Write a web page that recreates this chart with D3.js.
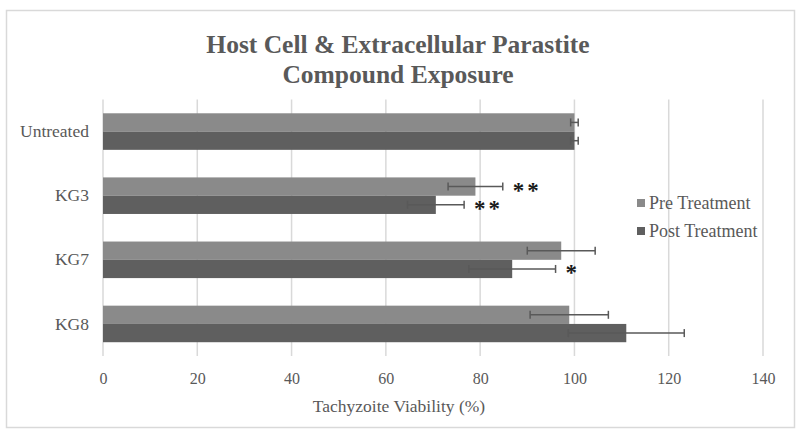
<!DOCTYPE html>
<html>
<head>
<meta charset="utf-8">
<script src="https://cdn.jsdelivr.net/npm/d3@7"></script>
<style>
  body { margin: 0; background: #fff; }
  text { font-family: "Liberation Serif", serif; fill: #595959; }
</style>
</head>
<body>
<script>
// chart data
var groups = ["Untreated", "KG3", "KG7", "KG8"];
var series = ["Pre Treatment", "Post Treatment"];
var preValues = [100, 79, 97.2, 98.9];
var postValues = [100, 70.6, 86.8, 111];
var preErrors = [0.8, 5.8, 7.2, 8.3];
var postErrors = [0.8, 6, 9.2, 12.3];
var preStars = ["", "**", "", ""];
var postStars = ["", "**", "*", ""];
var xTicks = [0, 20, 40, 60, 80, 100, 120, 140];

var w = 800, h = 439;
var colors = ["#8a8a8a", "#5f5f5f"];

var svg = d3.select("body").append("svg")
  .attr("width", w)
  .attr("height", h);

// outer chart border
svg.append("rect")
  .attr("x", 6.5).attr("y", 10.5)
  .attr("width", 788).attr("height", 417)
  .attr("fill", "#fff")
  .attr("stroke", "#d9d9d9")
  .attr("stroke-width", 1.5);

var x = d3.scaleLinear().domain([0, 140]).range([103, 763]);
var y = d3.scaleBand().domain(groups).range([99.5, 356]).paddingInner(0.43).paddingOuter(0.215);
var ySub = d3.scaleBand().domain(series).range([0, y.bandwidth()]);

// gridlines
svg.append("g").selectAll("line")
  .data(xTicks)
  .enter().append("line")
  .attr("x1", function(d){ return x(d); })
  .attr("x2", function(d){ return x(d); })
  .attr("y1", 99.5).attr("y2", 356)
  .attr("stroke", "#d9d9d9")
  .attr("stroke-width", 1.5);

// x axis labels
var xAxis = d3.axisBottom(x).tickValues(xTicks).tickSize(0).tickPadding(0);
var ax = svg.append("g")
  .attr("transform", "translate(0,373)")
  .call(xAxis);
ax.select(".domain").remove();
ax.selectAll("text")
  .style("font-size", "16px");

// y axis labels
var yAxis = d3.axisLeft(y).tickSize(0).tickPadding(14);
var ay = svg.append("g")
  .attr("transform", "translate(103,0)")
  .call(yAxis);
ay.select(".domain").remove();
ay.selectAll("text")
  .style("font-size", "17.5px");

// build rows
var rows = [];
groups.forEach(function(g, i){
  rows.push({group: g, s: series[0], v: preValues[i], e: preErrors[i], star: preStars[i], c: colors[0]});
  rows.push({group: g, s: series[1], v: postValues[i], e: postErrors[i], star: postStars[i], c: colors[1]});
});

function yMid(d){ return y(d.group) + ySub(d.s) + ySub.bandwidth() / 2; }

svg.append("g").selectAll("rect")
  .data(rows)
  .enter().append("rect")
  .attr("x", x(0))
  .attr("y", function(d){ return y(d.group) + ySub(d.s); })
  .attr("width", function(d){ return x(d.v) - x(0); })
  .attr("height", ySub.bandwidth())
  .attr("fill", function(d){ return d.c; });

// error bars
var eb = svg.append("g").attr("stroke", "#595959").attr("stroke-width", 1.5);
rows.forEach(function(d){
  var cy = yMid(d);
  eb.append("line")
    .attr("x1", x(d.v - d.e)).attr("x2", x(d.v + d.e))
    .attr("y1", cy).attr("y2", cy);
  [d.v - d.e, d.v + d.e].forEach(function(v){
    eb.append("line")
      .attr("x1", x(v)).attr("x2", x(v))
      .attr("y1", cy - 4).attr("y2", cy + 4);
  });
});

// significance marks
svg.append("g").selectAll("text")
  .data(rows.filter(function(d){ return d.star; }))
  .enter().append("text")
  .attr("x", function(d){ return x(d.v + d.e) + 10; })
  .attr("y", function(d){ return yMid(d) + 11; })
  .attr("letter-spacing", 3)
  .style("font-size", "23px")
  .style("font-weight", "bold")
  .style("fill", "#1a1a1a")
  .text(function(d){ return d.star; });

// title
var title = svg.append("text")
  .attr("text-anchor", "middle")
  .style("font-size", "25.5px")
  .style("font-weight", "bold");
title.append("tspan").attr("x", 398).attr("y", 53).text("Host Cell & Extracellular Parastite");
title.append("tspan").attr("x", 398).attr("y", 83).text("Compound Exposure");

// axis title
svg.append("text")
  .attr("x", 399).attr("y", 412)
  .attr("text-anchor", "middle")
  .style("font-size", "17.5px")
  .text("Tachyzoite Viability (%)");

// legend
var legend = svg.append("g").selectAll("g")
  .data(series)
  .enter().append("g")
  .attr("transform", function(d, i){ return "translate(637," + (203 + i * 28) + ")"; });
legend.append("rect")
  .attr("x", 0).attr("y", -4)
  .attr("width", 8).attr("height", 8)
  .attr("fill", function(d, i){ return colors[i]; });
legend.append("text")
  .attr("x", 12).attr("y", 6)
  .style("font-size", "18px")
  .text(function(d){ return d; });
</script>
</body>
</html>
